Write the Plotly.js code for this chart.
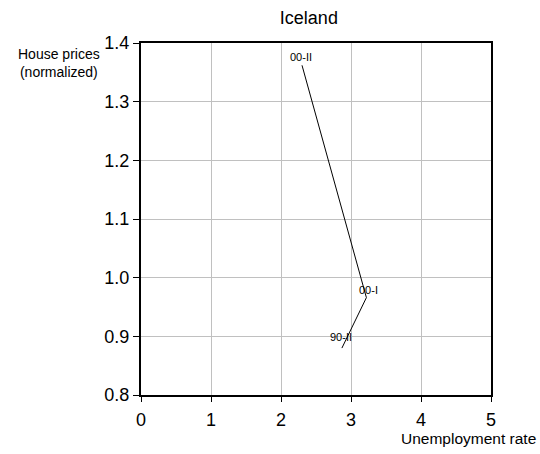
<!DOCTYPE html>
<html>
<head>
<meta charset="utf-8">
<script src="https://cdn.plot.ly/plotly-3.0.1.min.js"></script>
<style>html,body{margin:0;padding:0;background:#fff;}#chart{width:540px;height:454px;}</style>
</head>
<body>
<div id="chart"></div>
<script>
// Data
var periodLabels = ["90-II", "00-I", "00-II"];
var unemployment = [2.87, 3.22, 2.30];
var housePrices = [0.880, 0.966, 1.362];
var labelShiftX = [-1, 2, -1];
var labelShiftY = [11, 8, 8];
var xTicks = [0, 1, 2, 3, 4, 5];
var yTicks = [0.8, 0.9, 1.0, 1.1, 1.2, 1.3, 1.4];
var yTickText = ["0.8", "0.9", "1.0", "1.1", "1.2", "1.3", "1.4"];

var font = "'Liberation Sans', Arial, sans-serif";

var trace = {
  x: unemployment,
  y: housePrices,
  mode: "lines",
  type: "scatter",
  line: {color: "#000000", width: 1},
  hoverinfo: "skip",
  showlegend: false
};

var annotations = periodLabels.map(function (t, i) {
  return {
    x: unemployment[i], y: housePrices[i], xref: "x", yref: "y",
    text: t, showarrow: false,
    xshift: labelShiftX[i], yshift: labelShiftY[i],
    font: {family: font, size: 11, color: "#000"}
  };
});
annotations.push({
  xref: "paper", yref: "paper", x: -0.233, y: 0.997, xanchor: "center", yanchor: "top",
  text: "House prices<br>(normalized)", align: "center", showarrow: false,
  font: {family: font, size: 14, color: "#000"}
});
annotations.push({
  xref: "paper", yref: "paper", x: 1.135, y: -0.095, xanchor: "right", yanchor: "top",
  text: "Unemployment rate", showarrow: false,
  font: {family: font, size: 15.5, color: "#000"}
});

var layout = {
  width: 540, height: 454,
  paper_bgcolor: "#ffffff", plot_bgcolor: "#ffffff",
  margin: {l: 141, r: 49, t: 43, b: 59, pad: 0},
  title: {text: "Iceland", x: 0.572, xanchor: "center", y: 0.96, yanchor: "middle",
          font: {family: font, size: 18, color: "#000"}},
  xaxis: {
    range: [0, 5], tickvals: xTicks, ticks: "outside", ticklen: 5, tickwidth: 1, tickcolor: "#000",
    ticklabelstandoff: 2,
    showgrid: true, gridcolor: "#c0c0c0", gridwidth: 1,
    showline: true, linecolor: "#000", linewidth: 2, mirror: true,
    zeroline: false, tickfont: {family: font, size: 18, color: "#000"}
  },
  yaxis: {
    range: [0.8, 1.4], tickvals: yTicks, ticktext: yTickText, ticks: "outside", ticklen: 6, tickwidth: 1, tickcolor: "#000",
    showgrid: true, gridcolor: "#c0c0c0", gridwidth: 1,
    showline: true, linecolor: "#000", linewidth: 2, mirror: true,
    zeroline: false, tickfont: {family: font, size: 18, color: "#000"}
  },
  annotations: annotations
};

Plotly.newPlot("chart", [trace], layout, {staticPlot: true, displayModeBar: false});
</script>
</body>
</html>
